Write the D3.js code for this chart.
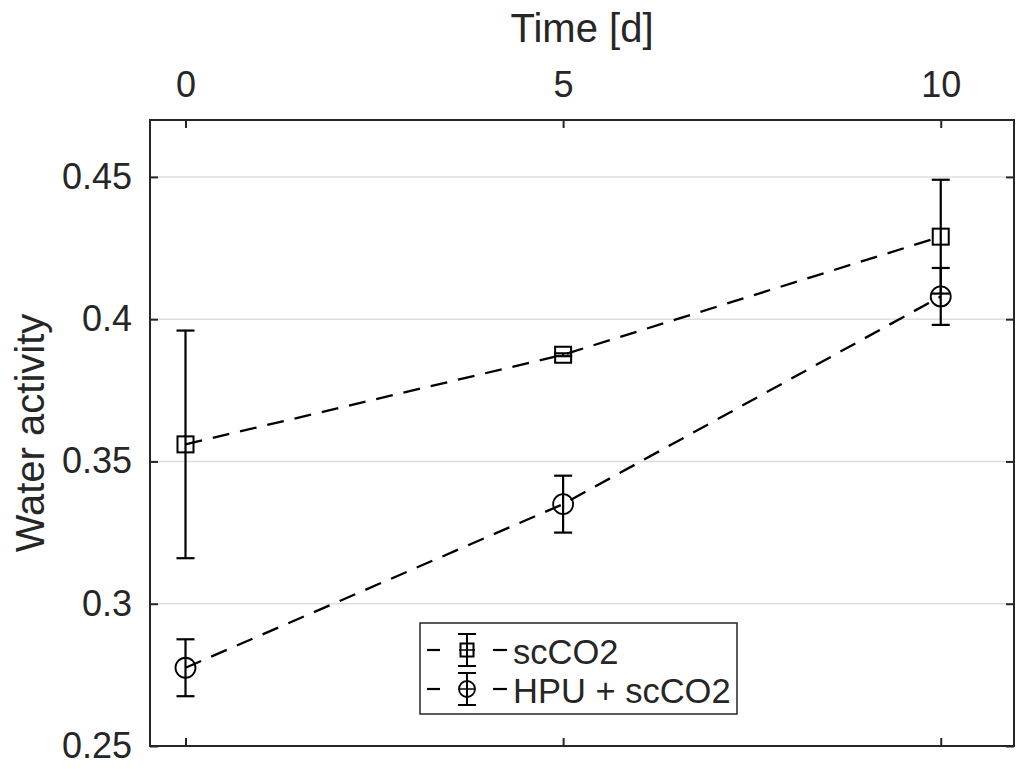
<!DOCTYPE html>
<html><head><meta charset="utf-8">
<script src="https://cdn.jsdelivr.net/npm/d3@7"></script>
<style>
body{margin:0;background:#fff}
svg{display:block}
text{font-family:"Liberation Sans",Arial,Helvetica,sans-serif;fill:#262626}
</style>
</head><body>
<svg id="c" width="1017" height="769"></svg>
<script>
// ---- data ----
const days = [0, 5, 10];
const seriesNames = ["scCO2", "HPU + scCO2"];
const scco2Mean = [0.356, 0.3875, 0.429];
const scco2Err  = [0.040, 0.0005, 0.020];
const hpuMean   = [0.2775, 0.335, 0.408];
const hpuErr    = [0.010, 0.010, 0.010];
const xTicks = [0, 5, 10];
const xTickLabels = ["0", "5", "10"];
const yTicks = [0.25, 0.3, 0.35, 0.4, 0.45];
const yTickLabels = ["0.25", "0.3", "0.35", "0.4", "0.45"];
const xTitle = "Time [d]";
const yTitle = "Water activity";

// ---- layout ----
const L = 150, R = 1014, T = 120, B = 746;
const svg = d3.select("#c");
const x = d3.scaleLinear().domain([-0.47, 10.97]).range([L, R]);
const y = d3.scaleLinear().domain([0.25, 0.47]).range([B, T]);
const axisCol = "#262626";

// grid
svg.append("g").selectAll("line").data(yTicks).join("line")
  .attr("x1", L).attr("x2", R)
  .attr("y1", d => y(d)).attr("y2", d => y(d))
  .attr("stroke", "#dedede").attr("stroke-width", 1.5);

// axes
function styleAxis(g) {
  g.select(".domain").remove();
  g.selectAll(".tick line").attr("stroke", axisCol).attr("stroke-width", 2);
  g.selectAll(".tick text").attr("fill", axisCol).style("font-size", "36px")
    .style("font-family", '"Liberation Sans",Arial,sans-serif');
}
svg.append("g").attr("transform", `translate(0,${T})`)
  .call(d3.axisTop(x).tickValues(xTicks).tickFormat((d, i) => xTickLabels[i]).tickSize(-8).tickPadding(23))
  .call(styleAxis);
svg.append("g").attr("transform", `translate(0,${B})`)
  .call(d3.axisBottom(x).tickValues(xTicks).tickFormat("").tickSize(-8))
  .call(styleAxis);
svg.append("g").attr("transform", `translate(${L},0)`)
  .call(d3.axisLeft(y).tickValues(yTicks).tickFormat((d, i) => yTickLabels[i]).tickSize(-8).tickPadding(18))
  .call(styleAxis);
svg.append("g").attr("transform", `translate(${R},0)`)
  .call(d3.axisRight(y).tickValues(yTicks).tickFormat("").tickSize(-8))
  .call(styleAxis);

// box
svg.append("rect").attr("x", L).attr("y", T).attr("width", R - L).attr("height", B - T)
  .attr("fill", "none").attr("stroke", axisCol).attr("stroke-width", 2);

// titles
svg.append("text").attr("x", (L + R) / 2).attr("y", 42).attr("text-anchor", "middle")
  .style("font-size", "40px").text(xTitle);
svg.append("text").attr("transform", `translate(44,${(T + B) / 2}) rotate(-90)`)
  .attr("text-anchor", "middle").style("font-size", "40px").text(yTitle);

// series
const series = [
  {name: seriesNames[0], mean: scco2Mean, err: scco2Err, marker: "square"},
  {name: seriesNames[1], mean: hpuMean, err: hpuErr, marker: "circle"}
];
const line = d3.line().x(d => x(d[0])).y(d => y(d[1]));
const capW = 9;

function drawMarker(g, type, cx, cy, size) {
  if (type === "square") {
    g.append("rect").attr("x", cx - size / 2).attr("y", cy - size / 2)
      .attr("width", size).attr("height", size)
      .attr("fill", "none").attr("stroke", "#000").attr("stroke-width", 2);
  } else {
    g.append("circle").attr("cx", cx).attr("cy", cy).attr("r", size / 2)
      .attr("fill", "none").attr("stroke", "#000").attr("stroke-width", 1.8);
  }
}

series.forEach(s => {
  const pts = days.map((d, i) => [d, s.mean[i]]);
  const g = svg.append("g");
  g.append("path").attr("d", line(pts)).attr("fill", "none")
    .attr("stroke", "#000").attr("stroke-width", 2.3).attr("stroke-dasharray", "17,11");
  days.forEach((d, i) => {
    const cx = x(d), lo = y(s.mean[i] - s.err[i]), hi = y(s.mean[i] + s.err[i]);
    g.append("line").attr("x1", cx).attr("x2", cx).attr("y1", lo).attr("y2", hi)
      .attr("stroke", "#000").attr("stroke-width", 2.2);
    [lo, hi].forEach(yy => g.append("line").attr("x1", cx - capW).attr("x2", cx + capW)
      .attr("y1", yy).attr("y2", yy).attr("stroke", "#000").attr("stroke-width", 2.2));
    drawMarker(g, s.marker, cx, y(s.mean[i]), s.marker === "square" ? 16 : 20);
  });
});

// legend
const lg = svg.append("g");
const LX = 420, LY = 623, LW = 317, LH = 91;
lg.append("rect").attr("x", LX).attr("y", LY).attr("width", LW).attr("height", LH)
  .attr("fill", "#fff").attr("stroke", axisCol).attr("stroke-width", 1.5);
series.forEach((s, i) => {
  const ry = LY + 27 + i * 39;
  const mx = LX + 47;
  [[LX + 7, LX + 20], [LX + 73, LX + 87]].forEach(seg =>
    lg.append("line").attr("x1", seg[0]).attr("x2", seg[1]).attr("y1", ry).attr("y2", ry)
      .attr("stroke", "#000").attr("stroke-width", 2.2));
  lg.append("line").attr("x1", mx).attr("x2", mx).attr("y1", ry - 16).attr("y2", ry + 16)
    .attr("stroke", "#000").attr("stroke-width", 2);
  [ry - 16, ry + 16].forEach(yy => lg.append("line").attr("x1", mx - 9).attr("x2", mx + 9)
    .attr("y1", yy).attr("y2", yy).attr("stroke", "#000").attr("stroke-width", 2));
  lg.append("line").attr("x1", mx - 8).attr("x2", mx + 8).attr("y1", ry).attr("y2", ry)
    .attr("stroke", "#000").attr("stroke-width", 1.5);
  drawMarker(lg, s.marker, mx, ry, s.marker === "square" ? 13 : 16);
  lg.append("text").attr("x", LX + 93).attr("y", ry + 14).style("font-size", "34.5px")
    .attr("fill", "#000").text(s.name);
});
</script>
</body></html>
